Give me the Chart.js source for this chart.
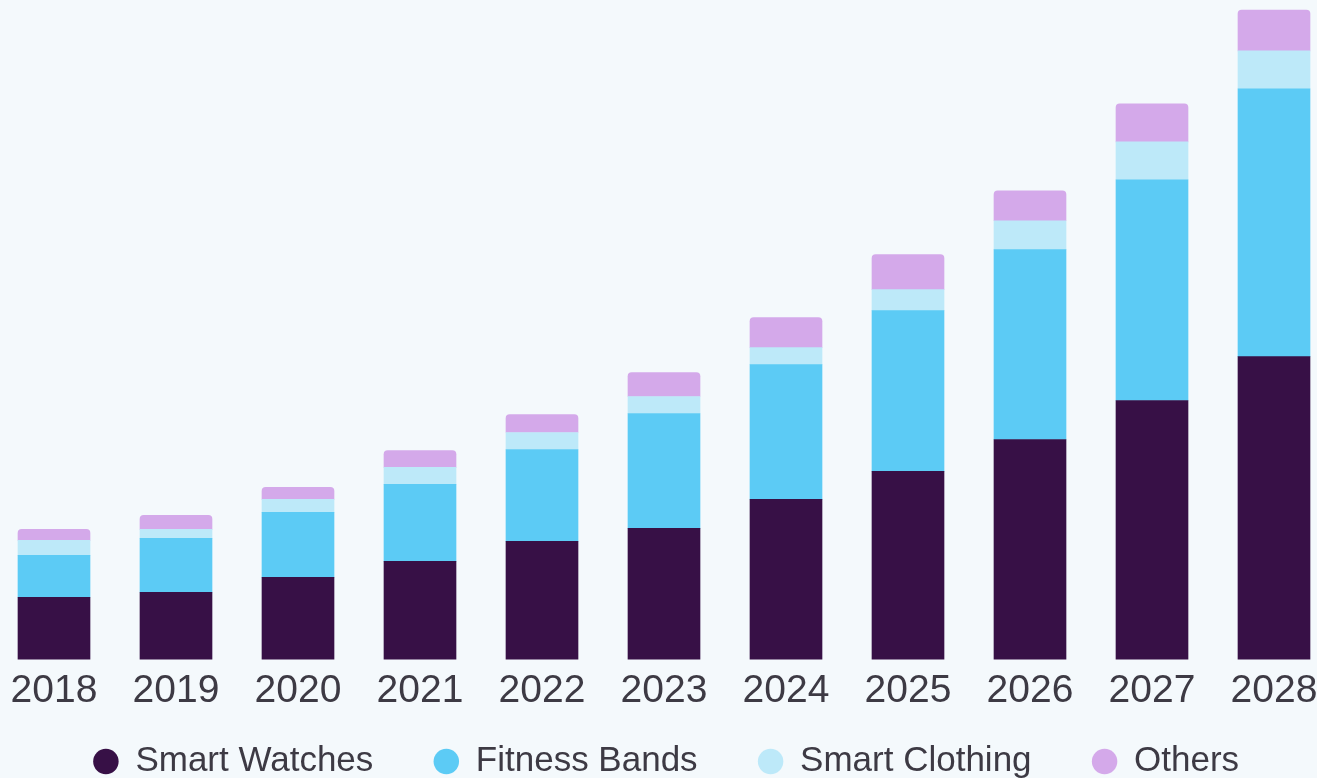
<!DOCTYPE html>
<html>
<head>
<meta charset="utf-8">
<script src="https://cdn.jsdelivr.net/npm/chart.js@4"></script>
<style>
html,body{margin:0;padding:0;background:#f4f9fc;overflow:hidden;}
#box{width:1317px;height:830px;position:relative;}
</style>
</head>
<body>
<div id="box"><canvas id="grafico"></canvas></div>
<script>
const anos = ["2018","2019","2020","2021","2022","2023","2024","2025","2026","2027","2028"];

const smartWatches = [6.2, 6.7, 8.2, 9.8, 11.8, 13.1, 16.0, 18.8, 22.0, 25.9, 30.3];
const fitnessBands = [4.2, 5.4, 6.5, 7.7, 9.2, 11.5, 13.5, 16.1, 19.0, 22.1, 26.8];
const smartClothing = [1.5, 0.9, 1.3, 1.7, 1.7, 1.7, 1.7, 2.1, 2.9, 3.8, 3.8];
const others = [1.1, 1.4, 1.2, 1.7, 1.8, 2.4, 3.0, 3.5, 3.0, 3.8, 4.1];

const cores = ["#371046", "#5ccbf5", "#bde9f9", "#d4a9ea"];

const fonte = "'Liberation Sans', Arial, sans-serif";

// a legenda sobe um pouco, fica cortada embaixo como no original
const moverLegenda = {
  id: "moverLegenda",
  afterLayout(chart){
    chart.legend.top -= 41;
    chart.legend.bottom -= 41;
    chart.legend.left += 8;
    chart.legend.right += 8;
  }
};

const ctx = document.getElementById("grafico");

new Chart(ctx, {
  type: "bar",
  data: {
    labels: anos,
    datasets: [
      {label: "Smart Watches", data: smartWatches, backgroundColor: cores[0]},
      {label: "Fitness Bands", data: fitnessBands, backgroundColor: cores[1]},
      {label: "Smart Clothing", data: smartClothing, backgroundColor: cores[2]},
      {label: "Others", data: others, backgroundColor: cores[3],
       borderRadius: {topLeft: 4, topRight: 4, bottomLeft: 0, bottomRight: 0}, borderSkipped: false}
    ]
  },
  options: {
    responsive: true,
    maintainAspectRatio: false,
    animation: false,
    layout: {padding: {top: 10, left: 0, right: 0, bottom: 0}},
    datasets: {bar: {barThickness: 72, clip: false}},
    scales: {
      x: {
        stacked: true,
        offset: false,
        grid: {display: false, drawTicks: false},
        border: {display: false},
        ticks: {color: "#3d3a44", font: {family: fonte, size: 39}, padding: 9, maxRotation: 0, autoSkip: false},
        afterFit: (s) => { s.paddingLeft = 54; s.paddingRight = 43; }
      },
      y: {
        stacked: true,
        display: false,
        min: 0,
        max: 65
      }
    },
    plugins: {
      tooltip: {enabled: false},
      legend: {
        position: "bottom",
        labels: {
          usePointStyle: true,
          pointStyle: "circle",
          boxWidth: 24,
          boxHeight: 18,
          padding: 61,
          color: "#3d3a44",
          font: {family: fonte, size: 35}
        }
      }
    }
  },
  plugins: [moverLegenda]
});
</script>
</body>
</html>
